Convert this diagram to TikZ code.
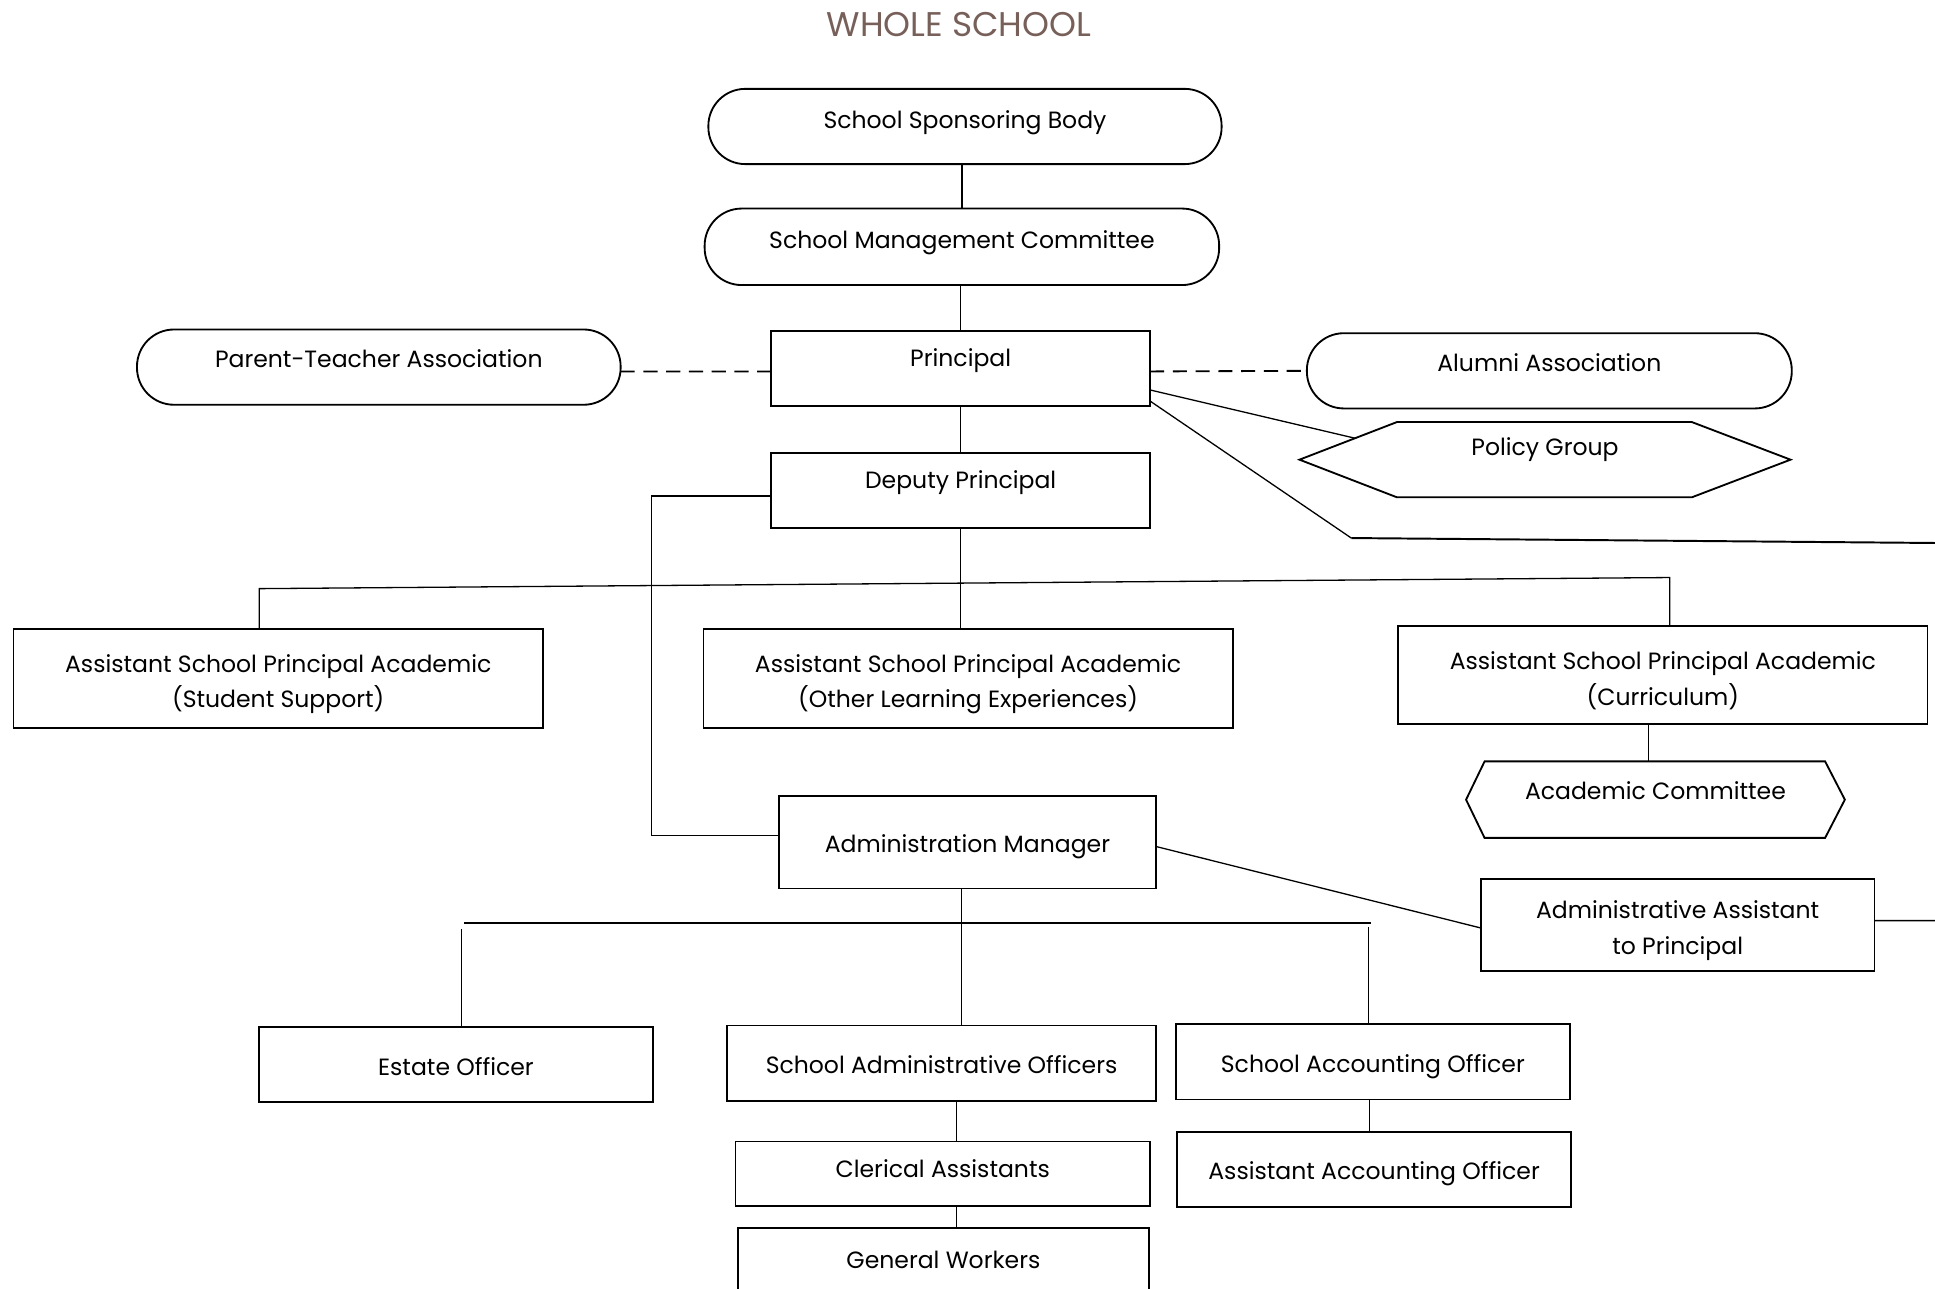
\documentclass[tikz,border=0pt]{standalone}
\usepackage{fontspec}
\setmainfont{Poppins}
\usetikzlibrary{calc}
\definecolor{titlebrown}{RGB}{120,96,90}
\newcommand\topstrut{\rule{0pt}{13.3pt}}
\begin{document}
\begin{tikzpicture}[x=0.02cm,y=-0.02cm,
  every node/.style={font=\fontsize{10.85}{16.5}\selectfont, inner sep=2pt, outer sep=0pt},
  box/.style={draw, line width=0.85pt, anchor=north west},
  pill/.style={box, rounded corners=0.6cm},
  hexa/.style={anchor=north west},
  conn/.style={line width=0.6pt},
  heavy/.style={line width=0.9pt},
  dashconn/.style={line width=0.85pt, dash pattern=on 6.5pt off 4pt},
  two/.style={align=center}
  ]
\useasboundingbox (0,0) rectangle (1568,1044);
\node[font=\fontsize{15.8}{18}\selectfont, text=titlebrown] (title) at (777,20) {WHOLE SCHOOL};

% top chain
\node[pill, minimum width=8.32cm, minimum height=1.22cm, text height=10.94pt, text depth=9.06pt] (ssb) at (574,72) {School Sponsoring Body};
\node[pill, minimum width=8.34cm, minimum height=1.24cm, text height=10.66pt, text depth=9.35pt] (smc) at (571,169) {School Management Committee};
\node[box, minimum width=6.14cm, minimum height=1.22cm, text height=9.23pt, text depth=10.77pt] (pr) at (625,268) {Principal};
\node[pill, minimum width=7.84cm, minimum height=1.22cm, text height=10.37pt, text depth=9.63pt] (pta) at (111,267) {Parent-Teacher Association};
\node[pill, minimum width=7.86cm, minimum height=1.22cm, text height=10.37pt, text depth=9.63pt] (al) at (1059,270) {Alumni Association};
\node[hexa, minimum width=7.96cm, minimum height=1.22cm, text height=8.1pt, text depth=11.9pt] (pg) at (1053,342) {Policy Group};
\draw[line width=0.85pt] (pg.west) -- ([xshift=1.58cm]pg.north west) -- ([xshift=-1.6cm]pg.north east) -- (pg.east) -- ([xshift=-1.6cm]pg.south east) -- ([xshift=1.58cm]pg.south west) -- cycle;
\node[box, minimum width=6.14cm, minimum height=1.22cm, text height=9.23pt, text depth=10.77pt] (dp) at (625,367) {Deputy Principal};

% assistant principals
\node[box, two, minimum width=8.58cm, minimum height=1.6cm] (ss) at (11,510) {\topstrut Assistant School Principal Academic\\(Student Support)};
\node[box, two, minimum width=8.58cm, minimum height=1.6cm] (ole) at (570,510) {\topstrut Assistant School Principal Academic\\(Other Learning Experiences)};
\node[box, two, minimum width=8.58cm, minimum height=1.6cm] (cur) at (1133,507) {\topstrut Assistant School Principal Academic\\(Curriculum)};
\node[hexa, minimum width=6.14cm, minimum height=1.24cm, text height=10.09pt, text depth=9.91pt] (ac) at (1188,617) {Academic Committee};
\draw[line width=0.85pt] (ac.west) -- ([xshift=0.3cm]ac.north west) -- ([xshift=-0.32cm]ac.north east) -- (ac.east) -- ([xshift=-0.32cm]ac.south east) -- ([xshift=0.3cm]ac.south west) -- cycle;

% administration
\node[box, minimum width=6.12cm, minimum height=1.5cm, text height=14.92pt, text depth=5.08pt] (am) at (631,645) {Administration Manager};
\node[box, two, minimum width=6.38cm, minimum height=1.5cm] (aa) at (1200,712) {\topstrut Administrative Assistant\\to Principal};
\node[box, minimum width=6.38cm, minimum height=1.22cm, text height=14.92pt, text depth=5.08pt] (eo) at (210,832) {Estate Officer};
\node[box, minimum width=6.96cm, minimum height=1.22cm, text height=14.92pt, text depth=5.08pt] (sao) at (589,831) {School Administrative Officers};
\node[box, minimum width=6.38cm, minimum height=1.22cm, text height=14.92pt, text depth=5.08pt] (sac) at (953,830) {School Accounting Officer};
\node[box, minimum width=6.38cm, minimum height=1.22cm, text height=14.92pt, text depth=5.08pt] (aao) at (954,917) {Assistant Accounting Officer};
\node[box, minimum width=6.72cm, minimum height=1.04cm, text height=11.79pt, text depth=8.21pt] (ca) at (596,925) {Clerical Assistants};
\node[box, minimum width=6.66cm, minimum height=1.22cm, text height=11.51pt, text depth=8.49pt] (gw) at (598,995) {General Workers};

% connectors
\draw[conn] (smc.north) -- (smc.north |- ssb.south);
\draw[conn] (pr.north) -- (pr.north |- smc.south);
\draw[conn] (dp.north) -- (pr.south);
\draw[dashconn] ([yshift=-0.07cm]pta.east) -- ([yshift=-0.05cm]pr.west);
\draw[dashconn] ([yshift=-0.05cm]pr.east) -- (al.west);
\draw[conn] ([yshift=-0.35cm]pr.east) -- ($(pg.west)!0.57!([xshift=1.58cm]pg.north west)$);
\coordinate (kinkA) at (1095,436);
\coordinate (edgeA) at (1568,440);
\draw[conn] ([yshift=-0.53cm]pr.east) -- (kinkA);
\draw[heavy] (kinkA) -- (edgeA);

\draw[conn] ([yshift=-0.09cm]dp.west) -- ++(-1.94cm,0) |- ([yshift=0.11cm]am.west);
\draw[conn] (dp.south) -- (dp.south |- ole.north);
\coordinate (busL) at (210,477);
\coordinate (busR) at (1353,468);
\draw[conn] (busL |- ss.north) -- (busL) -- (busR) -- (busR |- cur.north);
\coordinate (curA) at ([xshift=-0.23cm]cur.south);
\draw[conn] (curA) -- (curA |- ac.north);

\draw[conn] ([yshift=-0.07cm]am.east) -- ([yshift=-0.05cm]aa.west);
\coordinate (edgeB) at (1568,746);
\draw[conn] ([yshift=0.07cm]aa.east) -- (edgeB);

\coordinate (amA) at ([xshift=-0.1cm]am.south);
\draw[conn] (amA) -- (amA |- sao.north);
\coordinate (busL2) at (376,748);
\coordinate (busR2) at (1111,748);
\draw[heavy] (busL2) -- (busR2);
\coordinate (d1) at (374,753);
\draw[conn] (d1) -- (d1 |- eo.north);
\coordinate (d2) at (1109,751);
\draw[conn] (d2) -- (d2 |- sac.north);

\coordinate (saoA) at ([xshift=0.24cm]sao.south);
\draw[conn] (saoA) -- (saoA |- ca.north);
\coordinate (caA) at ([xshift=0.22cm]ca.south);
\draw[conn] (caA) -- (caA |- gw.north);
\coordinate (sacA) at ([xshift=-0.05cm]sac.south);
\draw[conn] (sacA) -- (sacA |- aao.north);
\end{tikzpicture}
\end{document}
